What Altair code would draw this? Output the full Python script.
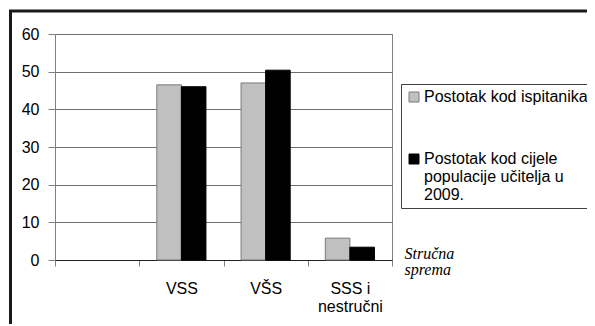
import altair as alt
import pandas as pd

# ---- data ----
axis_categories = ["", "VSS", "VŠS", "SSS i|nestručni"]
categories = ["VSS", "VŠS", "SSS i|nestručni"]
series_names = ["Postotak kod ispitanika", "Postotak kod cijele|populacije učitelja u|2009."]
ispitanici = [46.5, 47.0, 5.8]
populacija = [46.0, 50.4, 3.4]
y_ticks = [0, 10, 20, 30, 40, 50, 60]
axis_title = ["Stručna", "sprema"]

rows = []
for c, a, b in zip(categories, ispitanici, populacija):
    rows.append({"kat": c, "serija": series_names[0], "val": a})
    rows.append({"kat": c, "serija": series_names[1], "val": b})
df = pd.DataFrame(rows)

W, H = 337, 226
SANS = "Liberation Sans"
FS = 16

bars = alt.Chart(df).mark_bar(strokeWidth=1).encode(
    x=alt.X(
        "kat:N",
        sort=axis_categories,
        scale=alt.Scale(domain=axis_categories, paddingInner=0, paddingOuter=0),
        axis=alt.Axis(
            title=axis_title,
            labelExpr="split(datum.label, '|')",
            labelAngle=0,
            labelFont=SANS, labelFontSize=FS, labelColor="black",
            labelPadding=14, labelBaseline="top", labelLineHeight=18,
            tickBand="extent", tickSize=6, tickColor="#808080",
            domainColor="#202020", grid=False,
            titleFont="Liberation Serif", titleFontStyle="italic",
            titleFontWeight="normal", titleFontSize=16, titleColor="black",
            titleX=349, titleY=-2, titleAlign="left", titleBaseline="alphabetic",
            titleLineHeight=16,
        ),
    ),
    xOffset=alt.XOffset(
        "serija:N",
        sort=series_names,
        scale=alt.Scale(domain=series_names, paddingInner=0, paddingOuter=0.714),
    ),
    y=alt.Y(
        "val:Q",
        scale=alt.Scale(domain=[0, 60], nice=False),
        axis=alt.Axis(
            title=None, values=y_ticks, format="d",
            labelFont=SANS, labelFontSize=FS, labelColor="black",
            labelPadding=9, tickSize=7, tickColor="#808080",
            domainColor="#808080", grid=True, gridColor="#6e6e6e", gridWidth=1,
        ),
    ),
    color=alt.Color(
        "serija:N",
        sort=series_names,
        scale=alt.Scale(domain=series_names, range=["#c0c0c0", "#000000"]),
        legend=alt.Legend(
            title=None, orient="none", legendX=346, legendY=50,
            labelExpr="split(datum.label, '|')",
            labelFont=SANS, labelFontSize=FS, labelColor="black",
            labelLimit=400, labelOffset=2,
            symbolType="square", symbolSize=100,
            symbolStrokeColor="#6e6e6e", symbolStrokeWidth=1,
            rowPadding=46, padding=5,
            strokeColor="#404040", fillColor="white",
        ),
    ),
    stroke=alt.Stroke(
        "serija:N",
        sort=series_names,
        scale=alt.Scale(domain=series_names, range=["#7a7a7a", "#000000"]),
        legend=None,
    ),
)

frame = alt.Chart(alt.Data(values=[{}])).mark_rect(
    fillOpacity=0, stroke="#1a1a1a", strokeWidth=3
).encode(
    x=alt.value(-44.5), x2=alt.value(580),
    y=alt.value(-23), y2=alt.value(330),
)

chart = alt.layer(frame, bars).properties(
    width=W, height=H,
    autosize=alt.AutoSizeParams(type="none"),
    padding={"left": 47, "top": 26, "right": 195, "bottom": 64},
).configure_view(stroke="#808080", strokeWidth=1)

chart.save("out.html", embed_options={"renderer": "svg", "actions": False})
